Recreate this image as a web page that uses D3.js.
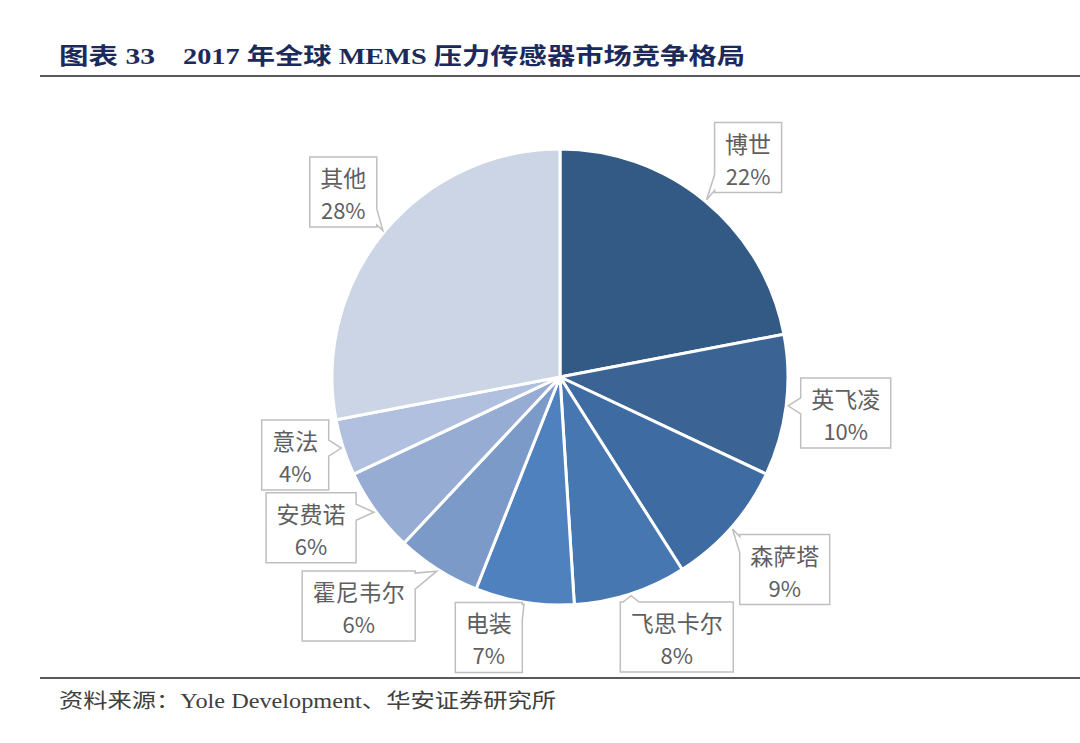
<!DOCTYPE html>
<html>
<head>
<meta charset="utf-8">
<script src="https://cdn.jsdelivr.net/npm/d3@7"></script>
<style>
  body { margin: 0; background: #fff; }
  svg { display: block; }
</style>
</head>
<body>
<svg id="chart"></svg>
<script>
// DATA
var companies = ["博世", "英飞凌", "森萨塔", "飞思卡尔", "电装", "霍尼韦尔", "安费诺", "意法", "其他"]
var shares = [22, 10, 9, 8, 7, 6, 6, 4, 28]
var sliceColors = ["#335a84", "#3b6393", "#3f6ba3", "#4677b1", "#4e81be", "#7b9ac8", "#97acd3", "#b0c0de", "#ccd5e5"]

// label layout: [angle nudge in degrees, distance from centre]
var labelShift = [[1, 289], [0, 288], [-0.8, 296], [-6.2, 285], [6.3, 270], [8.9, 305], [4.8, 291], [1.6, 276], [0.9, 285]]

var width = 1080, height = 743
var cx = 560, cy = 377, R = 228

var svg = d3.select("#chart").attr("width", width).attr("height", height)

// TITLE + RULES
svg.append("text")
  .attr("x", 59).attr("y", 64)
  .attr("textLength", 96).attr("lengthAdjust", "spacingAndGlyphs")
  .style("font-family", "'Liberation Serif', 'Noto Sans CJK SC', serif")
  .style("font-weight", "bold").style("font-size", "23px")
  .style("fill", "#1b2a5a")
  .text("图表 33")

svg.append("text")
  .attr("x", 183).attr("y", 64)
  .attr("textLength", 562).attr("lengthAdjust", "spacingAndGlyphs")
  .style("font-family", "'Liberation Serif', 'Noto Sans CJK SC', serif")
  .style("font-weight", "bold").style("font-size", "23px")
  .style("fill", "#1b2a5a")
  .text("2017 年全球 MEMS 压力传感器市场竞争格局")

svg.append("line").attr("x1", 40).attr("x2", width).attr("y1", 76).attr("y2", 76)
  .style("stroke", "#222").style("stroke-width", 1.6)
svg.append("line").attr("x1", 40).attr("x2", width).attr("y1", 678).attr("y2", 678)
  .style("stroke", "#222").style("stroke-width", 1.6)

svg.append("text")
  .attr("x", 59).attr("y", 708)
  .attr("textLength", 497).attr("lengthAdjust", "spacingAndGlyphs")
  .style("font-family", "'Liberation Serif', 'Noto Sans CJK SC', serif")
  .style("font-size", "20px")
  .style("fill", "#404040")
  .text("资料来源：Yole Development、华安证券研究所")

// PIE
var rows = companies.map(function (c, i) {
  return {name: c, share: shares[i], color: sliceColors[i], shift: labelShift[i]}
})

var pie = d3.pie().sort(null).value(d => d.share)
var arc = d3.arc().innerRadius(0).outerRadius(R)
var arcs = pie(rows)

var g = svg.append("g").attr("transform", "translate(" + cx + "," + cy + ")")

g.selectAll("path.slice")
  .data(arcs)
  .enter().append("path")
    .attr("class", "slice")
    .attr("d", arc)
    .style("fill", d => d.data.color)
    .style("stroke", "#fff")
    .style("stroke-width", 3)
    .style("stroke-linejoin", "round")

// CALLOUTS
function polar(a, r) {
  return [cx + r * Math.sin(a), cy - r * Math.cos(a)]
}

function clamp(v, lo, hi) { return Math.max(lo, Math.min(hi, v)) }

function calloutPath(x0, y0, x1, y1, tip) {
  var w = x1 - x0, h = y1 - y0
  var mx = (x0 + x1) / 2, my = (y0 + y1) / 2
  var nx = (tip[0] - mx) / (w / 2), ny = (tip[1] - my) / (h / 2)
  var side = null
  if (Math.abs(nx) > 1 || Math.abs(ny) > 1) {
    if (Math.abs(nx) >= Math.abs(ny)) side = nx < 0 ? "left" : "right"
    else side = ny < 0 ? "top" : "bottom"
  }
  var bw = 16
  var bx = clamp(tip[0], x0 + 2 + bw / 2, x1 - 2 - bw / 2)
  var by = clamp(tip[1], y0 + 2 + bw / 2, y1 - 2 - bw / 2)
  var pts = [[x0, y0]]
  if (side == "top") pts.push([bx - bw / 2, y0], tip, [bx + bw / 2, y0])
  pts.push([x1, y0])
  if (side == "right") pts.push([x1, by - bw / 2], tip, [x1, by + bw / 2])
  pts.push([x1, y1])
  if (side == "bottom") pts.push([bx + bw / 2, y1], tip, [bx - bw / 2, y1])
  pts.push([x0, y1])
  if (side == "left") pts.push([x0, by + bw / 2], tip, [x0, by - bw / 2])
  return "M" + pts.map(p => p[0].toFixed(1) + "," + p[1].toFixed(1)).join("L") + "Z"
}

var labelFont = "'Noto Sans CJK SC', 'Noto Sans', sans-serif"

arcs.forEach(function (d) {
  var mid = (d.startAngle + d.endAngle) / 2
  var a = mid + d.data.shift[0] * Math.PI / 180
  var c = polar(a, d.data.shift[1])
  var tip = polar(mid, R + 2)

  var lg = svg.append("g").attr("class", "callout")
  var box = lg.append("path")

  var t1 = lg.append("text")
    .attr("x", c[0]).attr("y", c[1] - 15)
    .attr("text-anchor", "middle").attr("dominant-baseline", "central")
    .style("font-family", labelFont).style("font-size", "23px")
    .style("fill", "#5f5f5f")
    .text(d.data.name)
  var t2 = lg.append("text")
    .attr("x", c[0]).attr("y", c[1] + 17)
    .attr("text-anchor", "middle").attr("dominant-baseline", "central")
    .style("font-family", labelFont).style("font-size", "22px")
    .style("fill", "#5f5f5f")
    .text(d.data.share + "%")

  var tw = Math.max(t1.node().getComputedTextLength(), t2.node().getComputedTextLength())
  var bwid = tw + 21, bh = 70
  box.attr("d", calloutPath(c[0] - bwid / 2, c[1] - bh / 2, c[0] + bwid / 2, c[1] + bh / 2, tip))
    .style("fill", "#fff")
    .style("stroke", "#bfbfbf")
    .style("stroke-width", 1.5)
})
</script>
</body>
</html>
